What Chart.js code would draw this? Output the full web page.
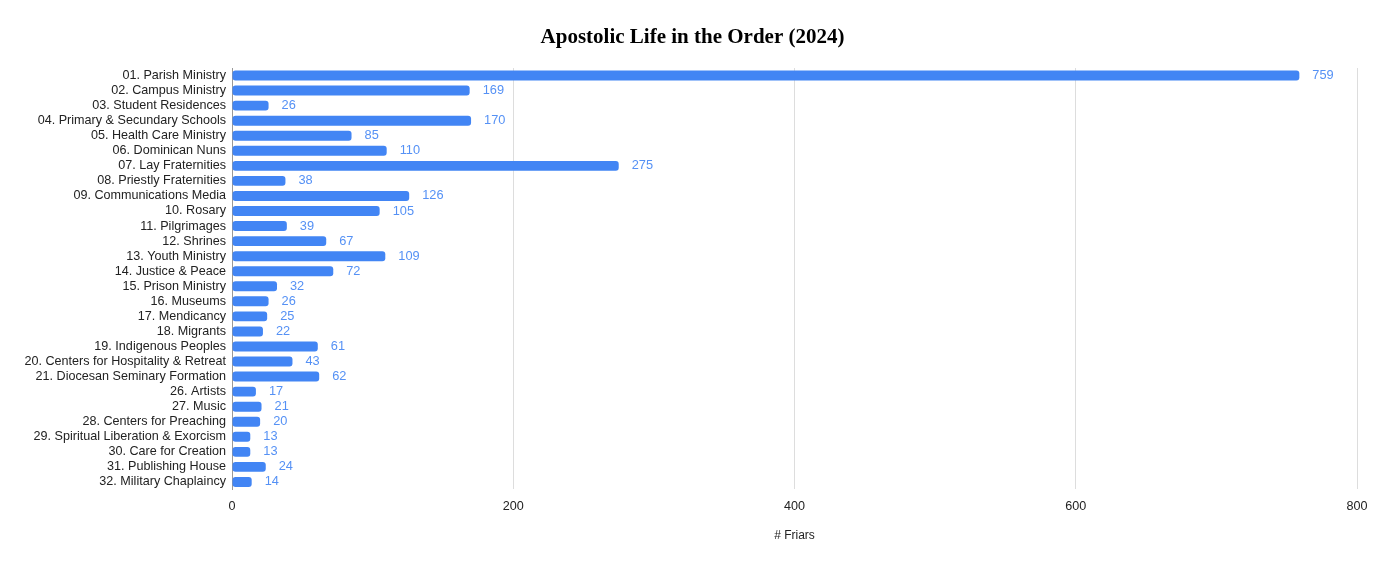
<!DOCTYPE html>
<html>
<head>
<meta charset="utf-8">
<script src="https://cdn.jsdelivr.net/npm/chart.js@4"></script>
<style>
  html, body { margin: 0; padding: 0; background: #fff; }
  #wrap { width: 1379px; height: 561px; }
</style>
</head>
<body>
<div id="wrap"><canvas id="barChart"></canvas></div>
<script>
    const chartTitle = 'Apostolic Life in the Order (2024)';
    const categories = [
        '01. Parish Ministry', '02. Campus Ministry', '03. Student Residences',
        '04. Primary & Secundary Schools', '05. Health Care Ministry', '06. Dominican Nuns',
        '07. Lay Fraternities', '08. Priestly Fraternities', '09. Communications Media',
        '10. Rosary', '11. Pilgrimages', '12. Shrines', '13. Youth Ministry',
        '14. Justice & Peace', '15. Prison Ministry', '16. Museums', '17. Mendicancy',
        '18. Migrants', '19. Indigenous Peoples', '20. Centers for Hospitality & Retreat',
        '21. Diocesan Seminary Formation', '26. Artists', '27. Music',
        '28. Centers for Preaching', '29. Spiritual Liberation & Exorcism',
        '30. Care for Creation', '31. Publishing House', '32. Military Chaplaincy'
    ];
    const friars = [759, 169, 26, 170, 85, 110, 275, 38, 126, 105, 39, 67, 109,
        72, 32, 26, 25, 22, 61, 43, 62, 17, 21, 20, 13, 13, 24, 14];
    const xTicks = [0, 200, 400, 600, 800];

    // value labels at the end of each bar + the page title
    const barLabels = {
        id: 'barLabels',
        afterDatasetsDraw(chart) {
            const ctx = chart.ctx;
            const meta = chart.getDatasetMeta(0);
            ctx.save();
            ctx.font = '12.8px "Liberation Sans", Arial, sans-serif';
            ctx.fillStyle = '#5591f5';
            ctx.textAlign = 'left';
            ctx.textBaseline = 'middle';
            meta.data.forEach((bar, i) => {
                ctx.fillText(friars[i], bar.x + 13, bar.y);
            });
            ctx.font = 'bold 21px "Liberation Serif", "Times New Roman", serif';
            ctx.fillStyle = '#000';
            ctx.textAlign = 'center';
            ctx.fillText(chartTitle, chart.width / 2 + 3, 37.5);
            ctx.restore();
        }
    };

    Chart.defaults.font.family = '"Liberation Sans", Arial, sans-serif';
    Chart.defaults.font.size = 12.6;
    Chart.defaults.color = '#222';

    new Chart(document.getElementById('barChart'), {
        type: 'bar',
        data: {
            labels: categories,
            datasets: [{
                label: '# Friars',
                data: friars,
                backgroundColor: '#4285f4',
                borderRadius: 3,
                borderSkipped: false,
                barPercentage: 0.66,
                categoryPercentage: 1
            }]
        },
        options: {
            indexAxis: 'y',
            responsive: true,
            maintainAspectRatio: false,
            animation: false,
            layout: { padding: { left: 0, right: 22, top: 68, bottom: 18 } },
            scales: {
                x: {
                    min: 0,
                    max: 800,
                    afterBuildTicks(scale) {
                        scale.ticks = xTicks.map(v => ({ value: v }));
                    },
                    grid: {
                        color: ctx => ctx.tick && ctx.tick.value === 0 ? 'transparent' : '#dddddd',
                        lineWidth: 1,
                        drawTicks: false
                    },
                    border: { display: false },
                    ticks: { padding: 9, color: '#222' },
                    title: {
                        display: true,
                        text: '# Friars',
                        color: '#222',
                        font: { size: 12 },
                        padding: { top: 6, bottom: 0 }
                    }
                },
                y: {
                    afterFit(scale) { scale.width = 232; },
                    grid: { display: false, drawTicks: false },
                    border: { display: true, color: '#999999', width: 1 },
                    ticks: { padding: 6, color: '#222', autoSkip: false }
                }
            },
            plugins: {
                legend: { display: false },
                tooltip: { enabled: false },
                title: { display: false }
            }
        },
        plugins: [barLabels]
    });
</script>
</body>
</html>
